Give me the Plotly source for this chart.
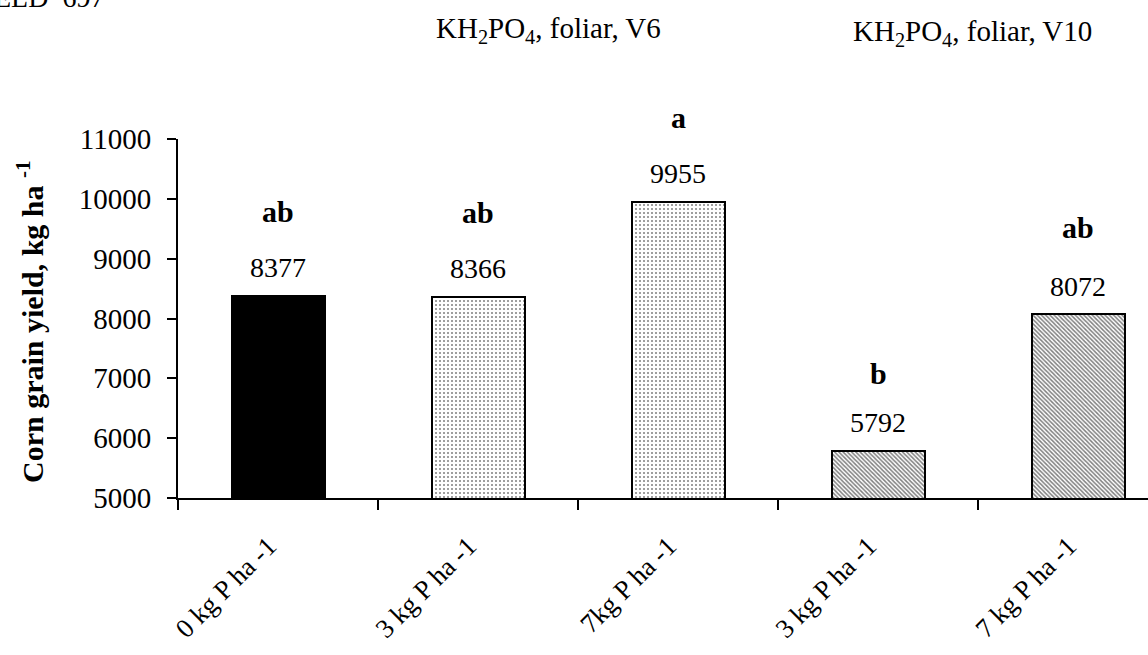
import plotly.graph_objects as go

categories = ["0 kg P ha -1", "3 kg P ha -1", "7kg P ha -1", "3 kg P ha -1", "7 kg P ha -1"]
yields = [8377, 8366, 9955, 5792, 8072]
letters = ["ab", "ab", "a", "b", "ab"]
group_titles = ["KH<sub>2</sub>PO<sub>4</sub>, foliar, V6", "KH<sub>2</sub>PO<sub>4</sub>, foliar, V10"]
y_ticks = [5000, 6000, 7000, 8000, 9000, 10000, 11000]
y_title = "<b>Corn grain yield, kg ha <sup>-1</sup></b>"

x_pos = list(range(len(categories)))
pattern_shapes = ["", ".", ".", "\\", "\\"]
fill_colors = ["black", "white", "white", "white", "white"]
letter_shift = [84, 84, 84, 77, 87]

SERIF = "Liberation Serif, serif"

fig = go.Figure()
for i in x_pos:
    shape = pattern_shapes[i]
    if shape == ".":
        pat = dict(shape=".", size=4, solidity=0.2, fgcolor="black", bgcolor="white", fillmode="overlay")
    elif shape == "\\":
        pat = dict(shape="\\", size=3, solidity=0.5, fgcolor="black", bgcolor="white", fillmode="overlay")
    else:
        pat = dict(shape="")
    fig.add_trace(go.Bar(
        x=[x_pos[i]], y=[yields[i]], base=0, width=0.465,
        marker=dict(color=fill_colors[i], line=dict(color="black", width=2), pattern=pat),
        showlegend=False, hoverinfo="skip",
    ))

for i in x_pos:
    fig.add_annotation(x=x_pos[i], y=yields[i], text=str(yields[i]), showarrow=False,
                       yanchor="middle", yshift=28, font=dict(family=SERIF, size=28, color="black"))
    fig.add_annotation(x=x_pos[i], y=yields[i], text="<b>%s</b>" % letters[i], showarrow=False,
                       yanchor="middle", yshift=letter_shift[i], font=dict(family=SERIF, size=30, color="black"))

# group headers
fig.add_annotation(xref="paper", yref="paper", x=(548 - 178) / 970, y=1 + (139 - 30) / 359,
                   text=group_titles[0], showarrow=False, xanchor="center", yanchor="middle",
                   font=dict(family=SERIF, size=29, color="black"))
fig.add_annotation(xref="paper", yref="paper", x=(972 - 178) / 970, y=1 + (139 - 33) / 359,
                   text=group_titles[1], showarrow=False, xanchor="center", yanchor="middle",
                   font=dict(family=SERIF, size=29, color="black"))
# cut-off text at top-left
fig.add_annotation(xref="paper", yref="paper", x=(-8 - 178) / 970, y=1 + (139 + 2) / 359,
                   text="ELD  697", showarrow=False, xanchor="left", yanchor="middle",
                   font=dict(family=SERIF, size=28, color="black"))
# y-axis title
fig.add_annotation(xref="paper", yref="paper", x=(30 - 178) / 970, y=(498 - 322) / 359,
                   text=y_title, showarrow=False, xanchor="center", yanchor="middle", textangle=-90,
                   font=dict(family=SERIF, size=30, color="black"))

fig.update_layout(
    width=1148, height=655,
    margin=dict(l=178, r=0, t=139, b=157, autoexpand=False),
    paper_bgcolor="white", plot_bgcolor="white",
    bargap=0,
    xaxis=dict(
        range=[-0.5, 4.35], tickmode="array", tickvals=x_pos,
        ticktext=[c + "\u00a0\u00a0" for c in categories],
        tickangle=-45, ticks="", showgrid=False, zeroline=False,
        showline=True, linecolor="black", linewidth=2,
        tickfont=dict(family=SERIF, size=27, color="black"), ticklabelstandoff=10,
        minor=dict(tickmode="array", tickvals=[-0.5, 0.5, 1.5, 2.5, 3.5], ticks="outside",
                   ticklen=10, tickwidth=2, tickcolor="black", showgrid=False),
    ),
    yaxis=dict(
        range=[5000, 11000], tickmode="array", tickvals=y_ticks, ticktext=[str(v) for v in y_ticks],
        ticks="outside", ticklen=9, tickwidth=2, tickcolor="black",
        showgrid=False, zeroline=False, showline=True, linecolor="black", linewidth=2,
        tickfont=dict(family=SERIF, size=29, color="black"), ticklabelstandoff=10,
    ),
)

fig.write_html("out.html")
